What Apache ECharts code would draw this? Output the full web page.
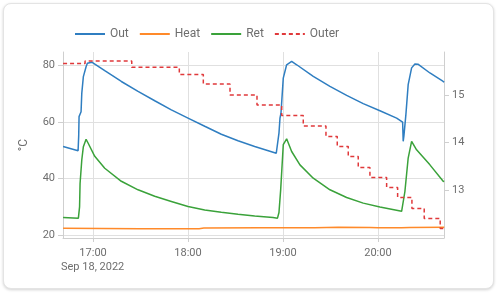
<!DOCTYPE html>
<html>
<head>
<meta charset="utf-8">
<script src="https://cdn.jsdelivr.net/npm/echarts@6/dist/echarts.min.js"></script>
<style>
html,body{margin:0;padding:0;background:#fff;width:497px;height:293px;overflow:hidden;}
#card{position:absolute;left:3px;top:3px;width:489px;height:284px;border:1px solid #e4e4e4;border-radius:8px;box-shadow:0 1px 3px rgba(0,0,0,0.18);background:#fff;}
#chart{position:absolute;left:0;top:0;width:497px;height:293px;}
</style>
</head>
<body>
<div id="card"></div>
<div id="chart"></div>
<script>
// ---- data (times on Sep 18, 2022) ----
const outTimes = ["16:41:03","16:50:32","16:50:55","16:51:09","16:52:25","16:52:52","16:53:52","16:55:35","16:56:24","16:59:11","17:00:00","17:07:23","17:17:52","17:28:25","17:38:58","17:49:27","18:00:00","18:10:33","18:21:02","18:31:35","18:42:08","18:55:46","18:56:32","18:57:28","18:58:07","18:58:44","19:00:11","19:02:19","19:05:29","19:08:40","19:19:08","19:29:41","19:40:14","19:50:43","20:01:16","20:11:49","20:15:36","20:15:58","20:16:25","20:17:40","20:19:07","20:21:17","20:23:22","20:25:17","20:32:51","20:41:14","20:41:53"];
const outValues = [51.3,49.8,55,61.8,63.5,70,75.9,79.4,80.6,81.0,80.6,78.0,74.2,70.7,67.4,64.2,61.3,58.4,55.6,53.3,51.3,48.9,48.8,56,61.3,63,75.4,80.1,81.3,80.1,76.0,72.5,69.3,66.4,63.9,61.3,59.9,53.1,55,62.5,73.1,79.0,80.4,80.3,77.2,74.2,74.0];

const heatTimes = ["16:41:03","17:30:00","18:07:00","18:10:00","18:45:00","19:20:00","19:35:00","19:55:00","20:00:00","20:15:00","20:20:00","20:41:53"];
const heatValues = [22.4,22.3,22.3,22.5,22.6,22.6,22.8,22.7,22.6,22.6,22.7,22.8];

const retTimes = ["16:41:03","16:50:43","16:51:28","16:51:47","16:52:52","16:53:52","16:55:35","16:56:50","17:01:04","17:07:23","17:17:52","17:28:25","17:38:58","17:49:27","18:00:00","18:10:33","18:21:02","18:31:35","18:42:08","18:53:41","18:56:32","18:57:28","18:58:32","18:59:10","19:00:11","19:02:19","19:05:29","19:10:44","19:19:08","19:29:41","19:40:14","19:50:43","20:01:16","20:14:58","20:15:47","20:17:03","20:19:07","20:21:17","20:24:25","20:32:51","20:41:14","20:41:53"];
const retValues = [26.2,26.0,30,38.2,46.5,51.2,53.8,52.5,47.8,43.6,39.0,36.0,33.7,31.9,30.1,28.9,28.1,27.4,26.8,26.2,26.0,28,35.9,42,51.9,54.0,49.5,44.8,40.1,36.0,33.3,31.3,29.9,28.4,28.3,35.4,47.2,53.1,50.1,44.8,39.0,38.9];

const outerTimes = ["16:41:03","16:54:57","17:24:26","17:54:30","18:09:40","18:26:32","18:43:35","18:59:11","19:12:50","19:27:10","19:34:18","19:41:15","19:47:34","19:54:57","20:05:30","20:12:27","20:21:29","20:29:15","20:39:21","20:41:53"];
const outerValues = [15.66,15.71,15.58,15.43,15.23,15.00,14.79,14.57,14.35,14.13,13.92,13.71,13.48,13.27,13.06,12.85,12.62,12.41,12.20,12.20];

const seriesNames = ["Out","Heat","Ret","Outer"];
const dateLabel = "Sep 18, 2022";

function ts(s){const p=s.split(':').map(Number);return new Date(2022,8,18,p[0],p[1],p[2]||0).getTime();}
function pairs(t,v){return t.map((x,i)=>[ts(x),v[i]]);}

const FONT = 'Roboto, "Noto Sans", sans-serif';
const TXT = '#6e6e6e';
const chart = echarts.init(document.getElementById('chart'), null, {renderer:'canvas'});
chart.setOption({
  animation:false,
  textStyle:{fontFamily:FONT},
  legend:{
    left:69, top:23, itemWidth:30, itemHeight:14, itemGap:10,
    itemStyle:{opacity:0},
    textStyle:{color:TXT, fontSize:12, fontFamily:FONT},
    data:seriesNames
  },
  grid:{left:63, right:53, top:52, bottom:55, containLabel:false},
  xAxis:{
    type:'time',
    min:ts("16:41:00"), max:ts("20:41:45"),
    minInterval:3600000, maxInterval:3600000,
    axisLine:{show:true, lineStyle:{color:'#cfcfcf'}},
    axisTick:{show:true, length:4, lineStyle:{color:'#cfcfcf'}},
    splitLine:{show:true, lineStyle:{color:'#e0e0e0'}},
    axisLabel:{color:TXT, fontSize:11, fontFamily:FONT, margin:10, formatter:'{HH}:{mm}', hideOverlap:false}
  },
  yAxis:[{
    type:'value', min:19, max:84.6, splitNumber:3,
    name:'°C', nameLocation:'middle', nameGap:33,
    nameTextStyle:{color:TXT, fontSize:12, fontFamily:FONT},
    axisLine:{show:true, lineStyle:{color:'#cfcfcf'}},
    axisTick:{show:true, length:5, lineStyle:{color:'#cfcfcf'}},
    splitLine:{show:true, showMinLine:false, showMaxLine:false, lineStyle:{color:'#e0e0e0'}},
    axisLabel:{color:TXT, fontSize:11, fontFamily:FONT, margin:8, showMinLabel:false, showMaxLabel:false}
  },{
    type:'value', min:12, max:15.9, splitNumber:4, position:'right',
    axisLine:{show:true, lineStyle:{color:'#cfcfcf'}},
    axisTick:{show:true, length:5, lineStyle:{color:'#cfcfcf'}},
    splitLine:{show:false},
    axisLabel:{color:TXT, fontSize:11, fontFamily:FONT, margin:8, showMinLabel:false, showMaxLabel:false}
  }],
  graphic:[{type:'text', left:61, top:262, style:{text:dateLabel, fill:TXT, fontSize:11, fontFamily:FONT}}],
  series:[
    {name:seriesNames[0], type:'line', yAxisIndex:0, symbol:'none', data:pairs(outTimes,outValues), lineStyle:{width:1.5, color:'#2f7ec1'}, itemStyle:{color:'#2f7ec1'}},
    {name:seriesNames[1], type:'line', yAxisIndex:0, symbol:'none', data:pairs(heatTimes,heatValues), lineStyle:{width:1.5, color:'#ff8a2a'}, itemStyle:{color:'#ff8a2a'}},
    {name:seriesNames[2], type:'line', yAxisIndex:0, symbol:'none', data:pairs(retTimes,retValues), lineStyle:{width:1.5, color:'#3aa23a'}, itemStyle:{color:'#3aa23a'}},
    {name:seriesNames[3], type:'line', yAxisIndex:1, symbol:'none', step:'end', data:pairs(outerTimes,outerValues), lineStyle:{width:1.5, type:[4,3], color:'#e0393b'}, itemStyle:{color:'#e0393b'}}
  ]
});
</script>
</body>
</html>
